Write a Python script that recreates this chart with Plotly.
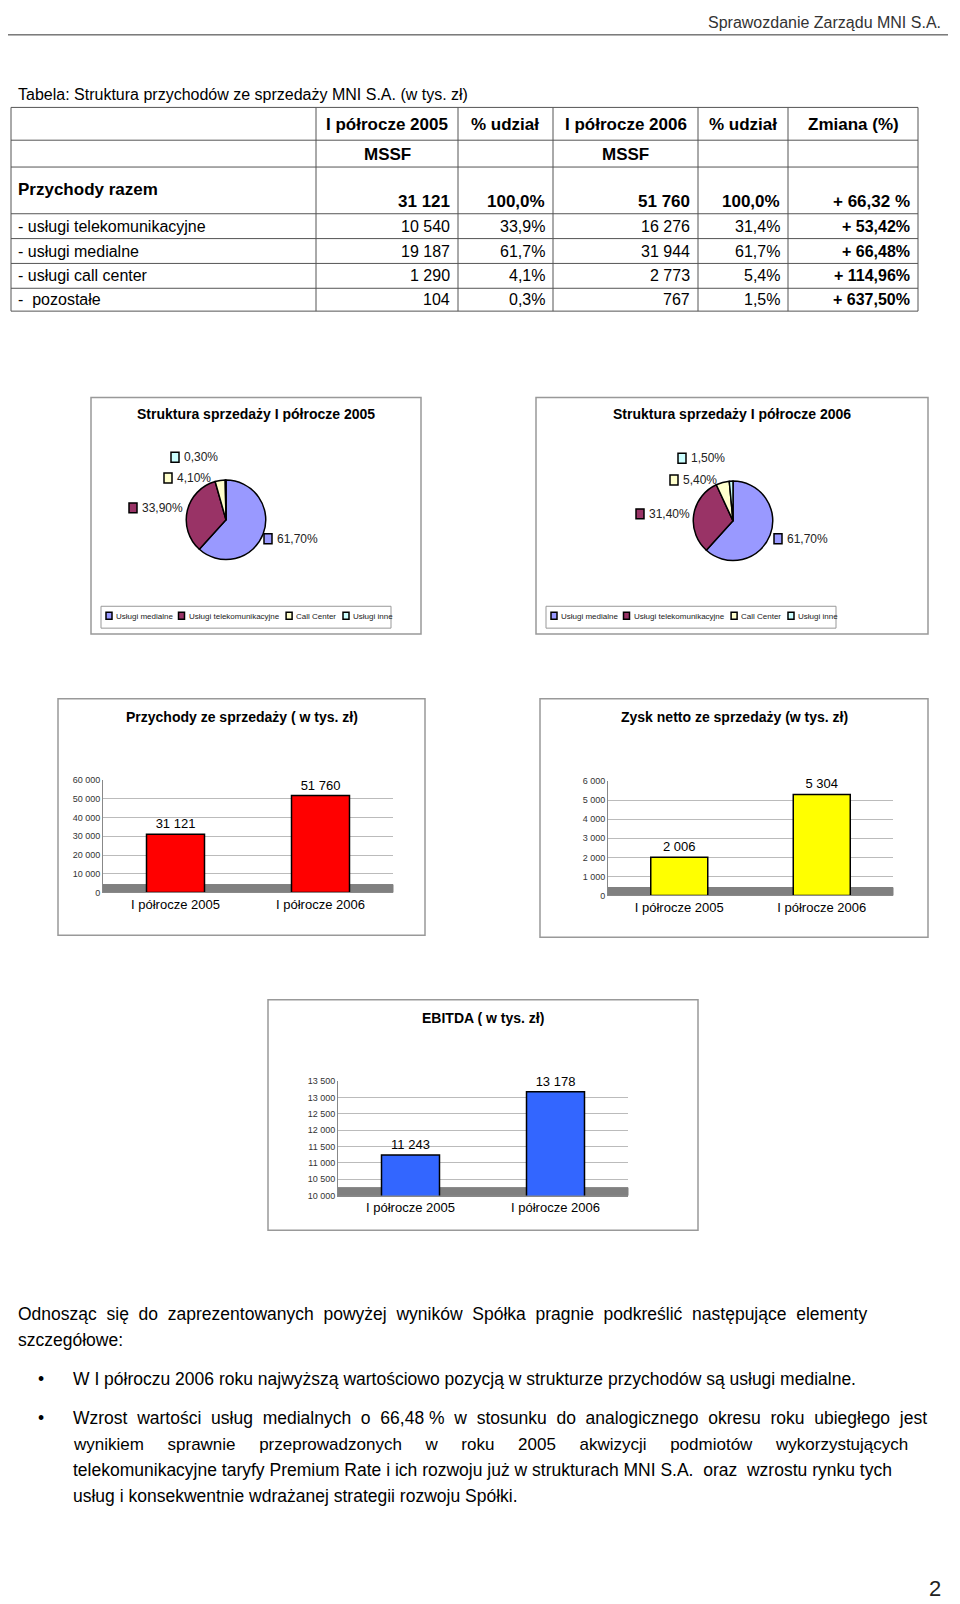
import plotly.graph_objects as go

W, H = 960, 1604
FONT = "Liberation Sans Narrow, Arial Narrow, Liberation Sans, Arial"

# ---- data ----
row_labels = ["- usługi telekomunikacyjne", "- usługi medialne", "- usługi call center", "-  pozostałe"]
h1_2005 = ["10 540", "19 187", "1 290", "104"]
share_2005 = ["33,9%", "61,7%", "4,1%", "0,3%"]
h1_2006 = ["16 276", "31 944", "2 773", "767"]
share_2006 = ["31,4%", "61,7%", "5,4%", "1,5%"]
change = ["+ 53,42%", "+ 66,48%", "+ 114,96%", "+ 637,50%"]
total_row = ["31 121", "100,0%", "51 760", "100,0%", "+ 66,32 %"]
col_headers = ["I półrocze 2005", "% udział", "I półrocze 2006", "% udział", "Zmiana (%)"]

pie_labels = ["Usługi medialne", "Usługi telekomunikacyjne", "Call Center", "Usługi inne"]
pie_2005 = [61.7, 33.9, 4.1, 0.3]
pie_2006 = [61.7, 31.4, 5.4, 1.5]
pie_colors = ["#9999FF", "#993366", "#FFFFCC", "#CCFFFF"]

periods = ["I półrocze 2005", "I półrocze 2006"]
revenue = [31121, 51760]
net_profit = [2006, 5304]
ebitda = [11243, 13178]

def X(p): return p / W
def Y(p): return 1 - p / H

fig = go.Figure()
ann = []
shp = []

def txt(x, y, s, size=15, anchor="left", bold=False, va="middle", color="black"):
    ann.append(dict(x=X(x), y=Y(y), xref="paper", yref="paper", text=f"<b>{s}</b>" if bold else s,
                    showarrow=False, xanchor=anchor, yanchor=va,
                    font=dict(family=FONT, size=size, color=color)))

def line(x0, y0, x1, y1, color="black", w=1):
    shp.append(dict(type="line", xref="paper", yref="paper", x0=X(x0), y0=Y(y0), x1=X(x1), y1=Y(y1),
                    line=dict(color=color, width=w)))

def rect(x0, y0, x1, y1, color="#999", w=1.5, fill=None):
    shp.append(dict(type="rect", xref="paper", yref="paper", x0=X(x0), y0=Y(y0), x1=X(x1), y1=Y(y1),
                    line=dict(color=color, width=w), fillcolor=fill or "rgba(0,0,0,0)", layer="below"))

# header
txt(935, 10, "Sprawozdanie Zarządu MNI S.A.", 16, "right", color="#333")
line(0, 22, 940, 22, "#333", 1)

# table
txt(8, 82, "Tabela: Struktura przychodów ze sprzedaży MNI S.A. (w tys. zł)", 16)
cols = [3, 308, 450, 545, 690, 780, 910]
rows = [95, 128, 155, 202, 227, 252, 277, 300]
for xc in cols:
    line(xc, 95, xc, 300, "#555", 1)
for yr in rows:
    line(3, yr, 910, yr, "#555", 1)
for i, h in enumerate(col_headers):
    txt((cols[i+1] + cols[i+2]) / 2, 112, h, 17, "center", True)
txt((cols[1] + cols[2]) / 2, 142, "MSSF", 17, "center", True)
txt((cols[3] + cols[4]) / 2, 142, "MSSF", 17, "center", True)
txt(8, 178, "Przychody razem", 17, "left", True)
for i, v in enumerate(total_row):
    txt(cols[i+2] - 6, 190, v, 17, "right", True)
for r, lab in enumerate(row_labels):
    yc = (rows[3+r] + rows[4+r]) / 2
    txt(8, yc, lab, 16)
    for i, v in enumerate([h1_2005[r], share_2005[r], h1_2006[r], share_2006[r]]):
        txt(cols[i+2] - 6, yc, v, 16, "right")
    txt(cols[6] - 6, yc, change[r], 16, "right", True)

# pies
def pie_block(vals, x0, x1, title, cx, cy, lblpos):
    rect(x0, 387, x1, 625)
    txt((x0 + x1) / 2, 404, title, 14, "center", True)
    r = 40
    fig.add_trace(go.Pie(values=vals, labels=pie_labels, sort=False, direction="clockwise", rotation=0,
                         marker=dict(colors=pie_colors, line=dict(color="black", width=1.5)),
                         textinfo="none", showlegend=False, hoverinfo="label+percent",
                         domain=dict(x=[X(cx - r), X(cx + r)], y=[Y(cy + r), Y(cy - r)])))
    for (lx, ly), v, c in zip(lblpos, vals, pie_colors):
        rect(lx - 12, ly - 5, lx - 4, ly + 5, "black", 1.5, c)
        txt(lx - 1, ly, f"{v:.2f}%".replace(".", ","), 12, "left", color="#222")
    # legend
    rect(x0 + 10, 597, x0 + 300, 619, "#999", 1)
    lx = x0 + 15
    for lab, c in zip(pie_labels, pie_colors):
        rect(lx, 603, lx + 6, 610, "black", 1.5, c)
        txt(lx + 8, 607, lab, 8, "left", color="#222")
        lx += 8 + len(lab) * 3.9 + 6

pie_block(pie_2005, 83, 413, "Struktura sprzedaży I półrocze 2005", 218, 510,
          [(268, 529), (133, 498), (168, 468), (175, 447)])
pie_block(pie_2006, 528, 920, "Struktura sprzedaży I półrocze 2006", 725, 511,
          [(778, 529), (640, 504), (674, 470), (682, 448)])

# bars
def bar_block(idx, vals, color, box, title, xdom, ytop, ybot, rng, dtick):
    bx0, by0, bx1, by1 = box
    rect(bx0, by0, bx1, by1)
    txt((bx0 + bx1) / 2, by0 + 18, title, 14, "center", True)
    xa = "x" if idx == 1 else f"x{idx}"
    ya = "y" if idx == 1 else f"y{idx}"
    fig.add_trace(go.Bar(x=periods, y=vals, xaxis=xa, yaxis=ya, width=0.4,
                         marker=dict(color=color, line=dict(color="black", width=1.5)),
                         text=[f"{v:,}".replace(",", " ") for v in vals], textposition="outside",
                         textfont=dict(family=FONT, size=13, color="black"), cliponaxis=False,
                         showlegend=False))
    common_y = dict(domain=[Y(ybot), Y(ytop)], range=rng, dtick=dtick, showgrid=True,
                    gridcolor="#bbb", tickfont=dict(family=FONT, size=9, color="#333"),
                    tickformat=",d", showline=True, linecolor="#888",
                    anchor=xa, zeroline=False)
    common_x = dict(domain=[X(xdom[0]), X(xdom[1])], anchor=ya, showline=True, linecolor="#888",
                    tickfont=dict(family=FONT, size=13, color="black"), ticks="")
    fig.layout[f"xaxis{'' if idx == 1 else idx}"] = common_x
    fig.layout[f"yaxis{'' if idx == 1 else idx}"] = common_y
    rect(xdom[0], ybot - 8, xdom[1], ybot, "#808080", 1, "#808080")

bar_block(1, revenue, "#FF0000", (50, 690, 417, 928), "Przychody ze sprzedaży ( w tys. zł)",
          (95, 385), 772, 885, [0, 60000], 10000)
bar_block(2, net_profit, "#FFFF00", (532, 690, 920, 930), "Zysk netto ze sprzedaży (w tys. zł)",
          (600, 885), 773, 888, [0, 6000], 1000)
bar_block(3, ebitda, "#3366FF", (260, 993, 690, 1225), "EBITDA ( w tys. zł)",
          (330, 620), 1075, 1190, [10000, 13500], 500)

# body text
FS = 17.5
txt(8, 1309, "Odnosząc  się  do  zaprezentowanych  powyżej  wyników  Spółka  pragnie  podkreślić  następujące  elementy", FS)
txt(8, 1335, "szczegółowe:", FS)
txt(33, 1375, "•", FS, "center")
txt(63, 1375, "W I półroczu 2006 roku najwyższą wartościowo pozycją w strukturze przychodów są usługi medialne.", FS)
txt(33, 1414, "•", FS, "center")
for i, s in enumerate([
    "Wzrost  wartości  usług  medialnych  o  66,48 %  w  stosunku  do  analogicznego  okresu  roku  ubiegłego  jest",
    "wynikiem     sprawnie     przeprowadzonych     w     roku     2005     akwizycji     podmiotów     wykorzystujących",
    "telekomunikacyjne taryfy Premium Rate i ich rozwoju już w strukturach MNI S.A.  oraz  wzrostu rynku tych",
    "usług i konsekwentnie wdrażanej strategii rozwoju Spółki."]):
    txt(63, 1414 + i * 26, s, FS if i != 1 else FS - 0.5)
txt(935, 1585, "2", 22, "right", color="#222")

fig.update_layout(width=W, height=H, margin=dict(l=0, r=0, t=0, b=0), paper_bgcolor="white",
                  plot_bgcolor="white", annotations=ann, shapes=shp, bargap=0.4, separators=", ")
fig.write_html("out.html")
